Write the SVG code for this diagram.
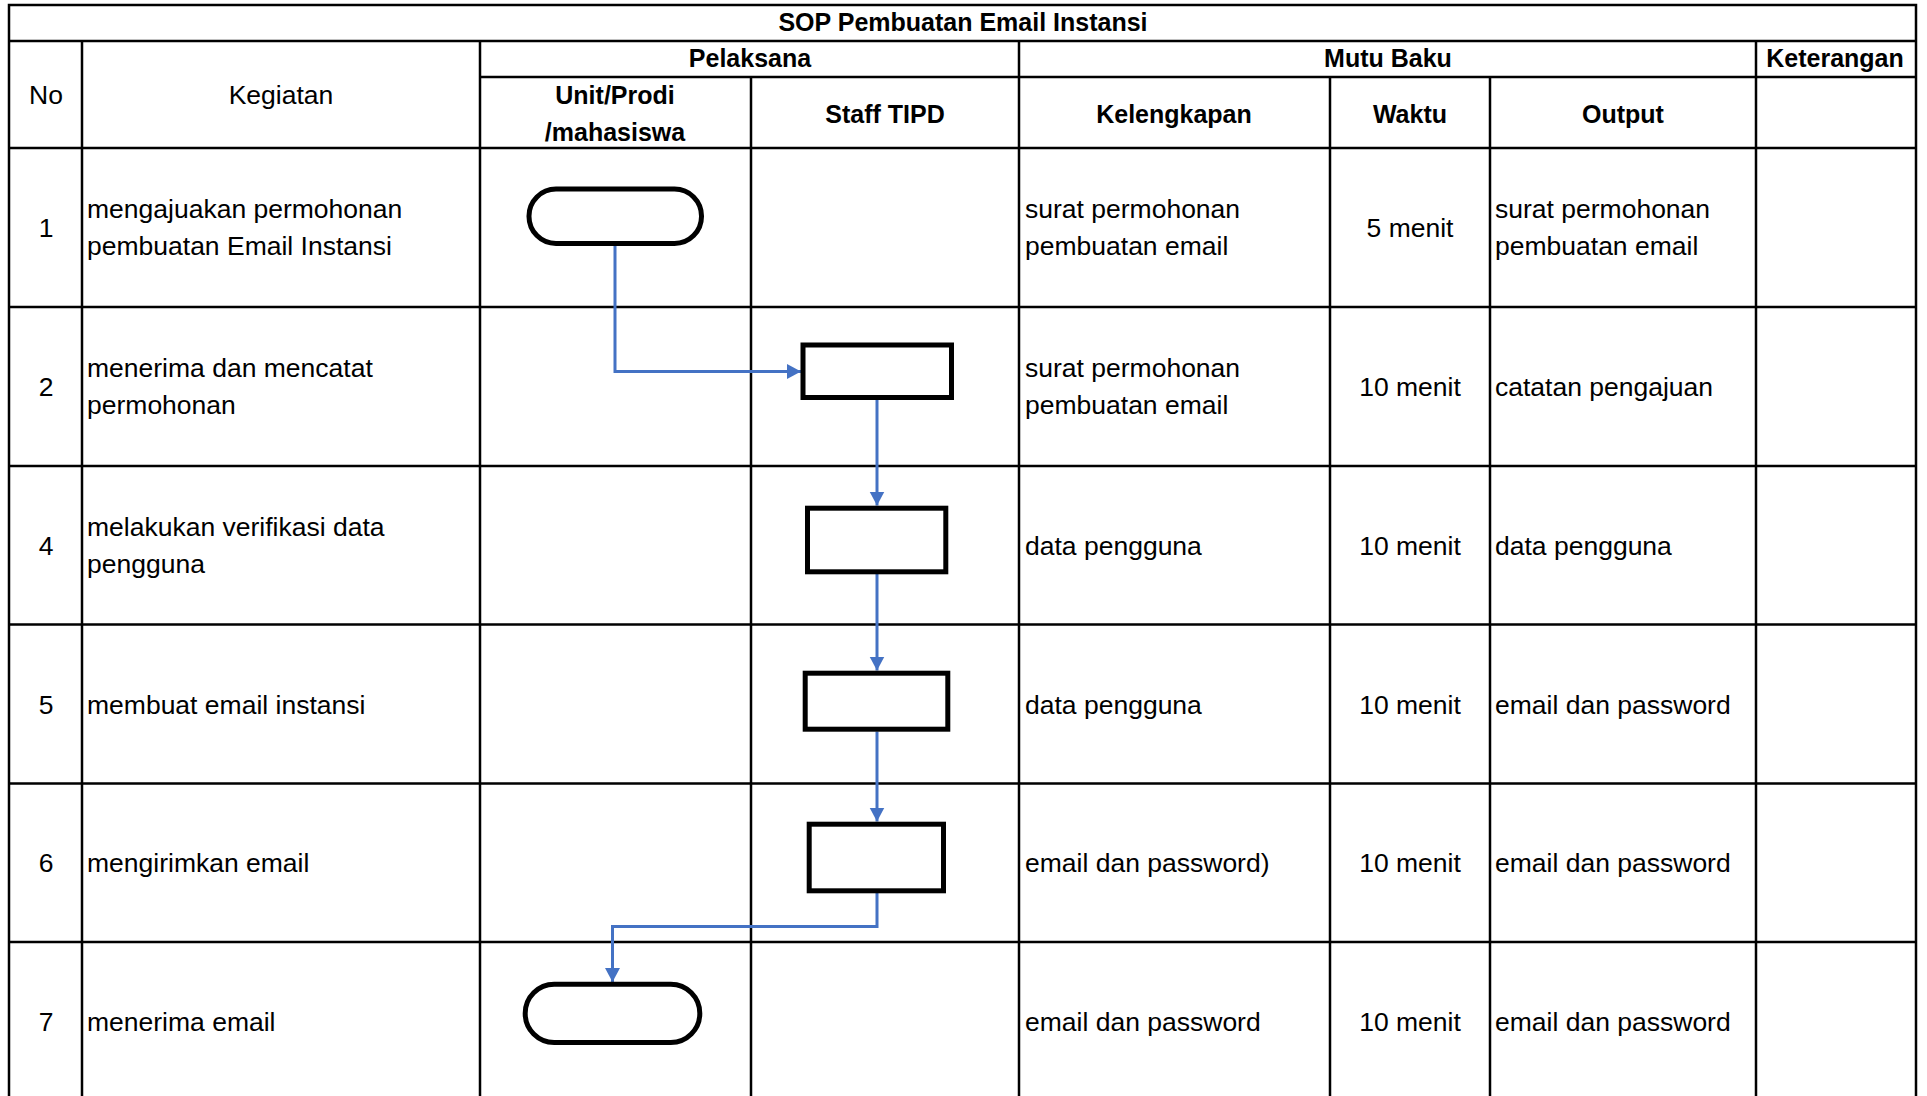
<svg xmlns="http://www.w3.org/2000/svg" width="1927" height="1096" viewBox="0 0 1927 1096">
<style>
.g{stroke:#000;stroke-width:2.5;fill:none}
.t{font-family:"Liberation Sans",Arial,sans-serif;font-size:26.5px;fill:#000}
.h{font-family:"Liberation Sans",Arial,sans-serif;font-size:25px;font-weight:bold;fill:#000}
.c{text-anchor:middle}
.n{fill:#fff;stroke:#000;stroke-width:5}
.e{fill:none;stroke:#4472C4;stroke-width:3}
</style>
<defs>
<marker id="ah" markerUnits="userSpaceOnUse" markerWidth="16" markerHeight="16" refX="14" refY="7.5" orient="auto">
<path d="M0,0 L14,7.5 L0,15 Z" fill="#4472C4"/>
</marker>
</defs>
<rect width="1927" height="1096" fill="#fff"/>
<g id="grid">
<path class="g" d="M9,1096 V5 H1916 V1096"/>
<path class="g" d="M9,41 H1916 M480,77 H1916 M9,148 H1916 M9,307 H1916 M9,466 H1916 M9,624.5 H1916 M9,783.5 H1916 M9,942 H1916"/>
<path class="g" d="M82,41 V1096 M480,41 V1096 M751,77 V1096 M1019,41 V1096 M1330,77 V1096 M1490,77 V1096 M1756,41 V1096"/>
</g>
<g id="header">
<text class="h c" x="963" y="31">SOP Pembuatan Email Instansi</text>
<text class="h c" x="750" y="67">Pelaksana</text>
<text class="h c" x="1388" y="67">Mutu Baku</text>
<text class="h c" x="1835" y="67">Keterangan</text>
<text class="t c" x="46" y="104">No</text>
<text class="t c" x="281" y="104">Kegiatan</text>
<text class="h c" x="615" y="103.5">Unit/Prodi</text>
<text class="h c" x="615" y="141">/mahasiswa</text>
<text class="h c" x="885" y="123">Staff TIPD</text>
<text class="h c" x="1174" y="123">Kelengkapan</text>
<text class="h c" x="1410" y="123">Waktu</text>
<text class="h c" x="1623" y="123">Output</text>
</g>
<g id="rows">
<text class="t c" x="46" y="237">1</text>
<text class="t" x="87" y="218">mengajuakan permohonan</text>
<text class="t" x="87" y="255">pembuatan Email Instansi</text>
<text class="t" x="1025" y="218">surat permohonan</text>
<text class="t" x="1025" y="255">pembuatan email</text>
<text class="t c" x="1410" y="237">5 menit</text>
<text class="t" x="1495" y="218">surat permohonan</text>
<text class="t" x="1495" y="255">pembuatan email</text>

<text class="t c" x="46" y="396">2</text>
<text class="t" x="87" y="377">menerima dan mencatat</text>
<text class="t" x="87" y="414">permohonan</text>
<text class="t" x="1025" y="377">surat permohonan</text>
<text class="t" x="1025" y="414">pembuatan email</text>
<text class="t c" x="1410" y="396">10 menit</text>
<text class="t" x="1495" y="396">catatan pengajuan</text>

<text class="t c" x="46" y="555">4</text>
<text class="t" x="87" y="536">melakukan verifikasi data</text>
<text class="t" x="87" y="573">pengguna</text>
<text class="t" x="1025" y="555">data pengguna</text>
<text class="t c" x="1410" y="555">10 menit</text>
<text class="t" x="1495" y="555">data pengguna</text>

<text class="t c" x="46" y="713.5">5</text>
<text class="t" x="87" y="713.5">membuat email instansi</text>
<text class="t" x="1025" y="713.5">data pengguna</text>
<text class="t c" x="1410" y="713.5">10 menit</text>
<text class="t" x="1495" y="713.5">email dan password</text>

<text class="t c" x="46" y="872">6</text>
<text class="t" x="87" y="872">mengirimkan email</text>
<text class="t" x="1025" y="872">email dan password)</text>
<text class="t c" x="1410" y="872">10 menit</text>
<text class="t" x="1495" y="872">email dan password</text>

<text class="t c" x="46" y="1031">7</text>
<text class="t" x="87" y="1031">menerima email</text>
<text class="t" x="1025" y="1031">email dan password</text>
<text class="t c" x="1410" y="1031">10 menit</text>
<text class="t" x="1495" y="1031">email dan password</text>
</g>
<g id="connectors">
<path class="e" d="M615,246 V371.5 H801" marker-end="url(#ah)"/>
<path class="e" d="M877,400 V505.5" marker-end="url(#ah)"/>
<path class="e" d="M877,574 V670.5" marker-end="url(#ah)"/>
<path class="e" d="M877,731.5 V821.5" marker-end="url(#ah)"/>
<path class="e" d="M877,893 V926.5 H612.5 V982" marker-end="url(#ah)"/>
</g>
<g id="node1"><rect class="n" x="529" y="189" width="172.5" height="54.5" rx="27" ry="27"/></g>
<g id="node2"><rect class="n" x="803" y="345" width="148.5" height="52.5"/></g>
<g id="node4"><rect class="n" x="807.5" y="508.2" width="138.3" height="63.6"/></g>
<g id="node5"><rect class="n" x="805.2" y="673.2" width="142.6" height="56"/></g>
<g id="node6"><rect class="n" x="809.2" y="824.2" width="134.3" height="66.6"/></g>
<g id="node7"><rect class="n" x="525.2" y="984.2" width="174.6" height="58.3" rx="29" ry="29"/></g>
</svg>
